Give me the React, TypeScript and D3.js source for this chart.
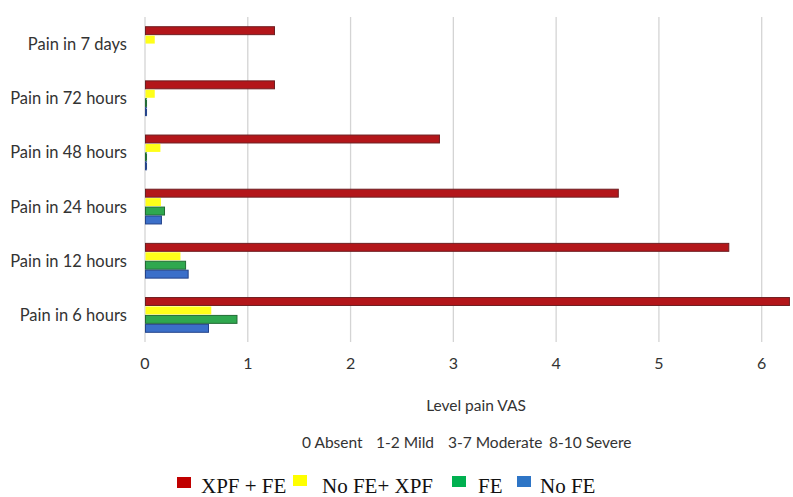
import React from "react";
import * as d3 from "d3";

const categories = ["Pain in 7 days", "Pain in 72 hours", "Pain in 48 hours", "Pain in 24 hours", "Pain in 12 hours", "Pain in 6 hours"];
const seriesNames = ["XPF + FE", "No FE+ XPF", "FE", "No FE"];
const xpfFe = [1.255, 1.255, 2.86, 4.6, 5.675, 6.265];
const noFeXpf = [0.09, 0.09, 0.145, 0.15, 0.34, 0.64];
const fe = [0, 0.01, 0.01, 0.185, 0.39, 0.89];
const noFe = [0, 0.01, 0.01, 0.155, 0.415, 0.613];
const xTicks = [0, 1, 2, 3, 4, 5, 6];
const scaleNotes = ["0 Absent", "1-2 Mild", "3-7 Moderate", "8-10 Severe"];

const fills = ["#b3161a", "#ffff1a", "#2fa84f", "#3b6fc9"];
const strokes = ["#6e1f22", "#f2f000", "#226b35", "#24438a"];
const legendFills = ["#c00000", "#ffff00", "#00b050", "#2e75c6"];

export default function App() {
  const W = 793, H = 497;
  const x = d3.scaleLinear().domain([0, 6]).range([145, 761.7]);
  const y = d3.scaleBand<string>().domain(categories).range([17, 342]).paddingInner(0.34).paddingOuter(0.17);
  const inner = d3.scaleBand<string>().domain(seriesNames).range([0, y.bandwidth()]).padding(0);
  const allSeries = [xpfFe, noFeXpf, fe, noFe];
  const labelFont = "Lato, 'Open Sans', sans-serif";

  const notePos = [302, 376, 448, 549];
  const legendItems = [
    { sq: 177, tx: 201, sqY: 477 },
    { sq: 293, tx: 322, sqY: 475 },
    { sq: 452, tx: 478, sqY: 476 },
    { sq: 517, tx: 540, sqY: 476 },
  ];

  return (
    <svg width={W} height={H} style={{ position: "absolute", left: 0, top: 0, background: "#fff" }}>
      <rect width={W} height={H} fill="#fff" />
      {xTicks.map((t) => (
        <line key={"g" + t} x1={x(t)} x2={x(t)} y1={17} y2={342} stroke="#d4d4d4" strokeWidth={1.3} />
      ))}
      {categories.map((c, ci) => (
        <g key={c}>
          {allSeries.map((s, si) => {
            const v = s[ci];
            if (v <= 0) return null;
            const y0 = (y(c) as number) + (inner(seriesNames[si]) as number);
            const w = Math.max(x(v) - x(0), 0.8);
            return (
              <rect
                key={si}
                x={x(0) + 0.5}
                y={y0 + 0.5}
                width={w}
                height={inner.bandwidth() - 1}
                fill={fills[si]}
                stroke={strokes[si]}
                strokeWidth={si === 1 ? 0 : 1}
              />
            );
          })}
          <text
            x={127}
            y={(y(c) as number) + y.bandwidth() / 2}
            textAnchor="end"
            dominantBaseline="central"
            fontFamily={labelFont}
            fontSize={16.5}
            fill="#333"
          >
            {c}
          </text>
        </g>
      ))}
      {xTicks.map((t) => (
        <text key={"t" + t} x={x(t)} y={362} textAnchor="middle" dominantBaseline="central" fontFamily={labelFont} fontSize={16} fill="#333">
          {t}
        </text>
      ))}
      <text x={476} y={405} textAnchor="middle" dominantBaseline="central" fontFamily={labelFont} fontSize={15.5} fill="#333">
        Level pain VAS
      </text>
      {scaleNotes.map((n, i) => (
        <text key={n} x={notePos[i]} y={442} dominantBaseline="central" fontFamily={labelFont} fontSize={15.5} fill="#333">
          {n}
        </text>
      ))}
      {seriesNames.map((n, i) => (
        <g key={n}>
          <rect x={legendItems[i].sq} y={legendItems[i].sqY} width={14} height={11} fill={legendFills[i]} />
          <text x={legendItems[i].tx} y={493} fontFamily="'Liberation Serif', 'Times New Roman', serif" fontSize={21} fill="#111">
            {n}
          </text>
        </g>
      ))}
    </svg>
  );
}
